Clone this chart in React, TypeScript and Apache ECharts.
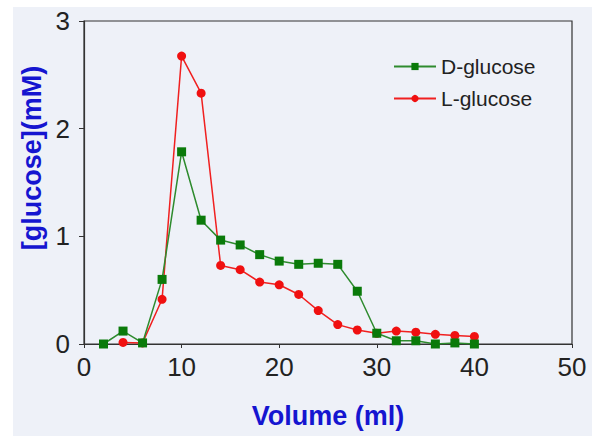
import React, { useEffect, useRef } from "react";
import * as echarts from "echarts";

const volumes = [2, 4, 6, 8, 10, 12, 14, 16, 18, 20, 22, 24, 26, 28, 30, 32, 34, 36, 38, 40];
const dGlucose = [0.0, 0.12, 0.01, 0.6, 1.785, 1.15, 0.965, 0.92, 0.83, 0.77, 0.74, 0.75, 0.74, 0.49, 0.1, 0.03, 0.03, 0.0, 0.01, 0.0];
const lVolumes = [4, 6, 8, 10, 12, 14, 16, 18, 20, 22, 24, 26, 28, 30, 32, 34, 36, 38, 40];
const lGlucose = [0.015, 0.01, 0.415, 2.674, 2.33, 0.73, 0.69, 0.575, 0.55, 0.46, 0.31, 0.18, 0.13, 0.1, 0.12, 0.11, 0.09, 0.08, 0.07];

export default function App() {
  const ref = useRef<HTMLDivElement>(null);
  useEffect(() => {
    if (!ref.current) return;
    const chart = echarts.init(ref.current, null, { renderer: "svg" });
    const axisColor = "#333";
    const font = "Liberation Sans, Arial, sans-serif";
    chart.setOption({
      animation: false,
      backgroundColor: "#ffffff",
      textStyle: { fontFamily: font },
      graphic: [
        { type: "rect", z: -10, silent: true, shape: { x: 13, y: 7, width: 592, height: 436 }, style: { fill: "#EEF1F8" } },
        {
          type: "text",
          x: 328,
          y: 416,
          style: { text: "Volume (ml)", fill: "#1515D0", font: "bold 27px " + font, textAlign: "center", textVerticalAlign: "middle" },
        },
        {
          type: "text",
          x: 32,
          y: 158,
          rotation: Math.PI / 2,
          style: { text: "[glucose](mM)", fill: "#1515D0", font: "bold 27px " + font, textAlign: "center", textVerticalAlign: "middle" },
        },
      ],
      grid: { left: 84, right: 20, top: 21, bottom: 92, show: true, borderColor: axisColor, borderWidth: 1.2, backgroundColor: "transparent" },
      legend: {
        orient: "vertical",
        left: 388,
        top: 51,
        itemWidth: 42,
        itemHeight: 9,
        itemGap: 11,
        textStyle: { fontSize: 21, color: "#222", fontFamily: font },
        data: ["D-glucose", "L-glucose"],
      },
      xAxis: {
        type: "value",
        min: 0,
        max: 50,
        interval: 10,
        axisLine: { show: true, lineStyle: { color: axisColor, width: 1.2 } },
        axisTick: { show: true, inside: false, length: 4, lineStyle: { color: axisColor } },
        axisLabel: { fontSize: 26, color: "#222", margin: 10 },
        splitLine: { show: false },
      },
      yAxis: {
        type: "value",
        min: 0,
        max: 3,
        interval: 1,
        axisLine: { show: true, lineStyle: { color: axisColor, width: 1.2 } },
        axisTick: { show: true, inside: false, length: 5, lineStyle: { color: axisColor } },
        axisLabel: { fontSize: 26, color: "#222", margin: 14 },
        splitLine: { show: false },
      },
      series: [
        {
          name: "D-glucose",
          type: "line",
          data: volumes.map((v, i) => [v, dGlucose[i]]),
          symbol: "rect",
          symbolSize: 9,
          itemStyle: { color: "#0A7A0A" },
          lineStyle: { color: "#2E8B2E", width: 1.5 },
          z: 3,
        },
        {
          name: "L-glucose",
          type: "line",
          data: lVolumes.map((v, i) => [v, lGlucose[i]]),
          symbol: "circle",
          symbolSize: 9,
          itemStyle: { color: "#F01010" },
          lineStyle: { color: "#F02020", width: 1.5 },
          z: 2,
        },
      ],
    });
    return () => chart.dispose();
  }, []);
  return <div ref={ref} style={{ position: "fixed", left: 0, top: 0, width: 592, height: 436 }} />;
}
